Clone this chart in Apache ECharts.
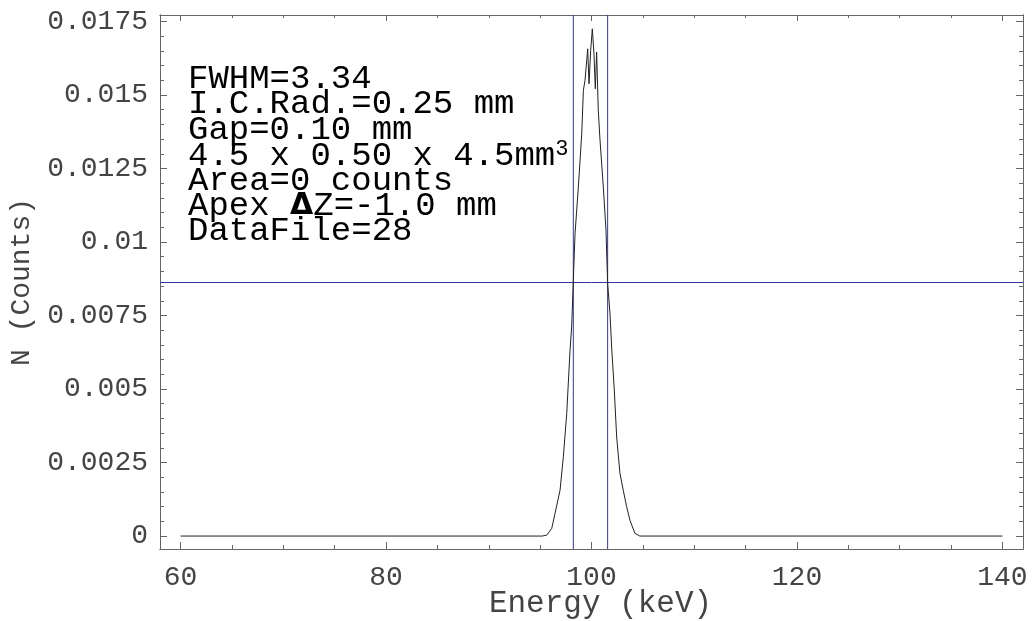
<!DOCTYPE html>
<html>
<head>
<meta charset="utf-8">
<script src="https://cdn.jsdelivr.net/npm/echarts@6/dist/echarts.min.js"></script>
<style>html,body{margin:0;padding:0;background:#fff;}#c{width:1034px;height:621px;}</style>
</head>
<body>
<div id="c"></div>
<script>
// ---- data ----
const energy = [60, 95.2, 95.64, 96.13, 96.45, 96.94, 97.26, 97.59, 97.91, 98.07, 98.23, 98.40, 98.72, 99.05, 99.21, 99.37, 99.63, 99.76, 99.92, 100.08, 100.24, 100.37, 100.50, 100.66, 100.83, 101.15, 101.41, 101.57, 101.80, 101.96, 102.22, 102.45, 102.77, 103.09, 103.42, 103.74, 104.23, 104.71, 140];
const counts = [0, 0, 0.00003, 0.00026, 0.00077, 0.00156, 0.0027, 0.00417, 0.00632, 0.00711, 0.0087, 0.01029, 0.01187, 0.01368, 0.01516, 0.0155, 0.01657, 0.01538, 0.01651, 0.01725, 0.0164, 0.01521, 0.01646, 0.01448, 0.01346, 0.01187, 0.0104, 0.00859, 0.00757, 0.00643, 0.00496, 0.00337, 0.00213, 0.00156, 0.001, 0.00054, 0.00009, 0, 0];
const fwhmLines = [98.23, 101.57];
const halfMax = 0.008625;
const xMajorTicks = [60, 80, 100, 120, 140];
const xMinorTicks = [65, 70, 75, 85, 90, 95, 105, 110, 115, 125, 130, 135];
const yMajorTicks = [0, 0.0025, 0.005, 0.0075, 0.01, 0.0125, 0.015, 0.0175];
const yTickLabels = ['0', '0.0025', '0.005', '0.0075', '0.01', '0.0125', '0.015', '0.0175'];
const yMinorTicks = [0.0005, 0.001, 0.0015, 0.002, 0.003, 0.0035, 0.004, 0.0045, 0.0055, 0.006, 0.0065, 0.007, 0.008, 0.0085, 0.009, 0.0095, 0.0105, 0.011, 0.0115, 0.012, 0.013, 0.0135, 0.014, 0.0145, 0.0155, 0.016, 0.0165, 0.017];
const infoLines = ['FWHM=3.34', 'I.C.Rad.=0.25 mm', 'Gap=0.10 mm', '4.5 x 0.50 x 4.5mm{sup|3}', 'Area=0 counts', 'Apex {b|Δ}Z=-1.0 mm', 'DataFile=28'];
const xName = 'Energy (keV)';
const yName = 'N (Counts)';

// ---- chart ----
const FONT = "'Liberation Mono','Courier New',monospace";
const FRAME = '#666';
const LABEL = '#444';
const REF = '#3535a0';
const xMin = 58, xMax = 142, yMin = -0.00044, yMax = 0.01772;

function xAx(pos, ticks, len, showLabel, extra) {
  return Object.assign({
    type: 'value', position: pos, min: xMin, max: xMax,
    axisLine: { show: true, onZero: false, lineStyle: { color: FRAME, width: 1 } },
    axisTick: { show: true, inside: true, length: len, customValues: ticks, lineStyle: { color: FRAME, width: 1 } },
    axisLabel: showLabel ? { show: true, customValues: ticks, fontFamily: FONT, fontSize: 28, color: LABEL, margin: 15 } : { show: false },
    splitLine: { show: false }
  }, extra || {});
}
function yAx(pos, ticks, len, showLabel, extra) {
  return Object.assign({
    type: 'value', position: pos, min: yMin, max: yMax,
    axisLine: { show: true, onZero: false, lineStyle: { color: FRAME, width: 1 } },
    axisTick: { show: true, inside: true, length: len, customValues: ticks, lineStyle: { color: FRAME, width: 1 } },
    axisLabel: showLabel ? {
      show: true, customValues: ticks, fontFamily: FONT, fontSize: 28, color: LABEL, margin: 12,
      formatter: function (v) {
        let best = 0, d = Infinity;
        yMajorTicks.forEach(function (t, i) { const dd = Math.abs(t - v); if (dd < d) { d = dd; best = i; } });
        return yTickLabels[best];
      }
    } : { show: false },
    splitLine: { show: false }
  }, extra || {});
}

const chart = echarts.init(document.getElementById('c'), null, { renderer: 'canvas' });

const graphics = infoLines.map(function (t, i) {
  return {
    type: 'text', left: 188, top: 62 + i * 25.4, z: 100,
    style: {
      text: t, fontFamily: FONT, fontSize: 34, fill: '#000',
      rich: {
        sup: { fontFamily: FONT, fontSize: 22, fill: '#000', verticalAlign: 'top', padding: [0, 0, 14, 0] },
        b: { fontFamily: "'DejaVu Sans',sans-serif", fontSize: 30, fontWeight: 'bold', fill: '#000' }
      }
    }
  };
});

const refSeries = fwhmLines.map(function (x) {
  return {
    type: 'line', xAxisIndex: 0, yAxisIndex: 0, silent: true, z: 2,
    data: [[x, yMin], [x, yMax]],
    showSymbol: false, symbol: 'none',
    lineStyle: { color: REF, width: 1 }
  };
});

chart.setOption({
  animation: false,
  backgroundColor: '#fff',
  grid: { left: 160, right: 11, top: 15, bottom: 72, containLabel: false, outerBoundsMode: 'none' },
  xAxis: [
    xAx('bottom', xMajorTicks, 7, true, {
      name: xName, nameLocation: 'middle', nameGap: 39, nameMoveOverlap: false,
      nameTextStyle: { fontFamily: FONT, fontSize: 31, color: LABEL, padding: [0, 0, 0, 18] }
    }),
    xAx('bottom', xMinorTicks, 4, false),
    xAx('top', xMajorTicks, 6, false),
    xAx('top', xMinorTicks, 3, false)
  ],
  yAxis: [
    yAx('left', yMajorTicks, 7, true, {
      name: yName, nameLocation: 'middle', nameGap: 124, nameMoveOverlap: false,
      nameTextStyle: { fontFamily: FONT, fontSize: 28, color: LABEL }
    }),
    yAx('left', yMinorTicks, 4, false),
    yAx('right', yMajorTicks, 7, false),
    yAx('right', yMinorTicks, 4, false)
  ],
  series: [{
    type: 'line',
    xAxisIndex: 0, yAxisIndex: 0,
    data: energy.map(function (e, i) { return [e, counts[i]]; }),
    showSymbol: false, symbol: 'none',
    lineStyle: { color: '#222', width: 1 },
    silent: true, z: 3,
    markLine: {
      silent: true, symbol: 'none', animation: false, precision: 8, z: 2,
      label: { show: false },
      lineStyle: { color: REF, width: 1, type: 'solid' },
      data: [{ yAxis: halfMax }]
    }
  }].concat(refSeries),
  graphic: graphics
});
</script>
</body>
</html>
